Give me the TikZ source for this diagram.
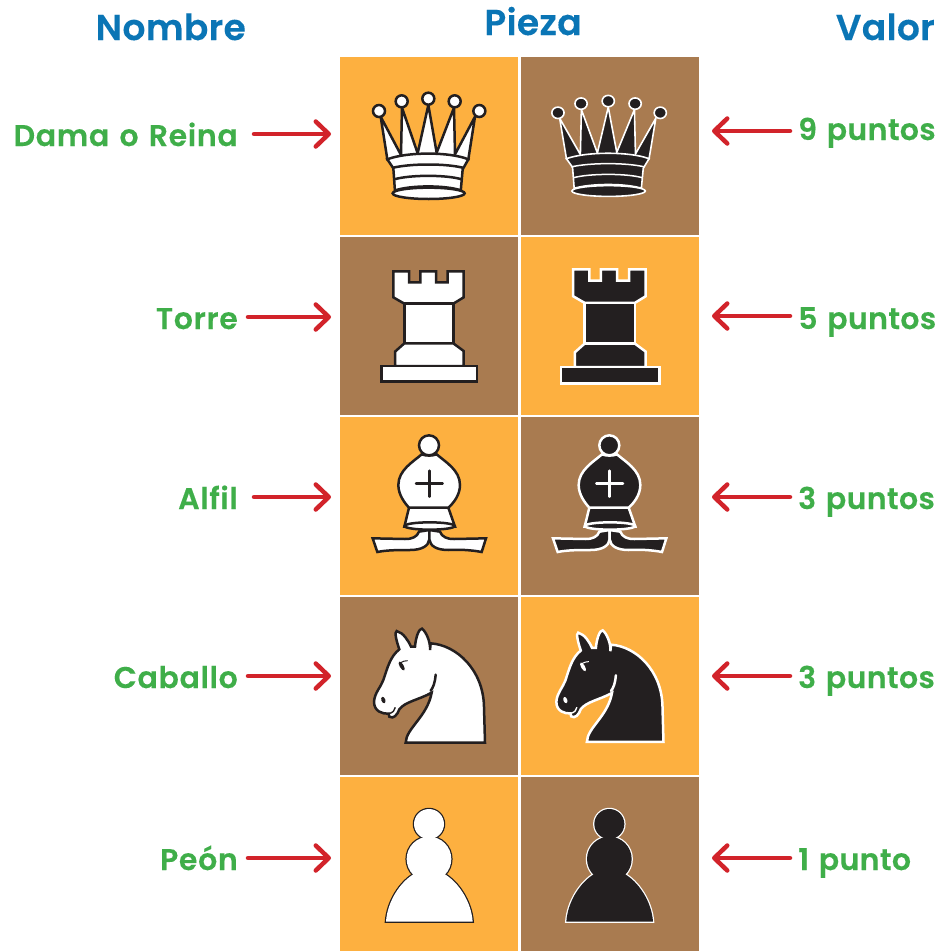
\documentclass[tikz,border=0pt]{standalone}
\usepackage{fontspec}
\setmainfont{Poppins}
\newfontfamily\labfont{Poppins SemiBold}[LetterSpace=2.3,WordSpace=1.3,FakeBold=0.25]
\newfontfamily\valfont{Poppins SemiBold}[LetterSpace=1.2,WordSpace=1.3,FakeBold=0.25]
\newfontfamily\headfont{Poppins SemiBold}[LetterSpace=1,FakeBold=0.2]
\usetikzlibrary{arrows.meta}
\definecolor{gold}{HTML}{FDB040}
\definecolor{brownc}{HTML}{A97B50}
\definecolor{inkc}{HTML}{231F20}
\definecolor{greenc}{HTML}{3FAE49}
\definecolor{bluec}{HTML}{0A75B5}
\definecolor{redc}{HTML}{D2232A}
\tikzset{
 cell/.style={rectangle,draw=none,inner sep=0pt,outer sep=0pt,minimum width=178pt,minimum height=178pt},
 head/.style={text=bluec,font=\fontsize{36}{40}\selectfont\headfont,inner sep=0pt},
 lab/.style={text=greenc,font=\fontsize{30}{34}\selectfont\labfont,inner sep=0pt},
 val/.style={text=greenc,font=\fontsize{30}{34}\selectfont\valfont,inner sep=0pt},
 arr/.style={draw=redc,line width=4.5pt,line cap=round,-{Straight Barb[length=13pt,width=25pt,round]}},
 body/.style={fill=pf,draw=ps,line width=2.5pt,line join=miter},
 bodyfill/.style={fill=pf,draw=none},
 line/.style={draw=ps,line width=2.5pt},
 thinblack/.style={body/.append style={line width=1.6pt},line/.append style={line width=1.5pt}},
 wp/.style={x=0.33333pt,y=-0.33333pt},
}
\newcommand{\setwhite}{\colorlet{pf}{white}\colorlet{ps}{inkc}}
\newcommand{\setblack}{\colorlet{pf}{inkc}\colorlet{ps}{white}}
\newcommand{\PQueen}{%
 \path[body] (142,298)--(122,170)--(183,285)--(186,143)--(233,280)--(265,135)--(290,278)--(342,143)--(345,283)--(405,170)--(385,298)--cycle;
 \path[body] (142,298) .. controls (200,275) and (330,275) .. (385,298) -- (368,328) -- (362,395) -- (165,395) -- (160,325) -- cycle;
 \path[line] (156,324) .. controls (210,310) and (320,310) .. (372,324);
 \path[line] (163,358) .. controls (210,344) and (320,344) .. (365,358);
 \path[line] (163,392) .. controls (210,375) and (320,375) .. (365,392);
 \path[body] (266,400) ellipse [x radius=108,y radius=17];
 \foreach \qx/\qy in {117/153,185/124,265/116,344/124,418/153}{\path[body] (\qx,\qy) circle [radius=18];}
}
\newcommand{\PRook}{%
 \path[body] (160,94)--(207,94)--(207,127)--(241,127)--(241,94)--(288,94)--(288,127)--(323,127)--(323,94)--(371,94)--(371,172)--(340,191)--(193,191)--(160,172)--cycle;
 \path[body] (193,191) rectangle (340,310);
 \path[body] (193,310)--(340,310)--(371,333)--(371,378)--(165,378)--(165,335)--cycle;
 \path[body] (125,378) rectangle (411,425);
}
\newcommand{\PBishop}{%
 \path[body] (237,335) .. controls (232,350) and (215,358) .. (195,357) -- (98,355) -- (112,396) .. controls (140,390) and (180,390) .. (210,390) .. controls (245,390) and (266,378) .. (268,358) -- (268,330) -- cycle;
 \path[body] (300,335) .. controls (305,350) and (322,358) .. (342,357) -- (438,355) -- (425,396) .. controls (395,390) and (355,388) .. (325,390) .. controls (290,390) and (270,378) .. (268,358) -- (268,330) -- cycle;
 \path[body] (207,263) -- (193,320) -- (345,320) -- (325,263) -- cycle;
 \path[body] (269,318) ellipse [x radius=75,y radius=11];
 \path[body] (245,103) .. controls (220,125) and (175,150) .. (175,195) .. controls (175,225) and (195,250) .. (207,263) -- (325,263) .. controls (340,250) and (360,225) .. (360,195) .. controls (360,150) and (315,125) .. (290,103) .. controls (275,108) and (260,108) .. (245,103) -- cycle;
 \path[body] (267,76) circle [radius=30];
 \path[line,line cap=round] (228,190) -- (308,190);
 \path[line,line cap=round] (268,152) -- (268,230);
}
\newcommand{\PKnight}{%
 \path[body] (435,428) -- (197,428) .. controls (198,385) and (262,350) .. (275,278) .. controls (235,300) and (195,305) .. (178,328) .. controls (172,345) and (160,358) .. (148,350) .. controls (147,347) and (146,344) .. (146,341) .. controls (128,342) and (102,335) .. (102,305) .. controls (104,278) and (122,262) .. (130,240) .. controls (142,205) and (150,170) .. (178,148) .. controls (170,125) and (162,95) .. (170,93) .. controls (190,98) and (205,122) .. (213,140) -- (225,140) .. controls (227,112) and (237,85) .. (246,86) .. controls (258,95) and (272,125) .. (270,150) -- (272,130) .. controls (350,135) and (430,210) .. (432,320) -- cycle;
 \path[line,line cap=round] (287,224) .. controls (285,248) and (280,262) .. (272,272);
 \path[fill=ps,rotate around={30:(185,198)}] (185,198) ellipse [x radius=6,y radius=15];
 \path[draw=ps,line width=1pt] (182,188) .. controls (188,184) and (195,182) .. (203,182);
 \path[fill=ps,rotate around={20:(130,300)}] (130,300) ellipse [x radius=6,y radius=10];
 \path[draw=ps,line width=1.4pt] (146,341) .. controls (158,338) and (165,332) .. (166,322);
}
\newcommand{\PPawn}{%
 \newcommand{\pwnshapes}[1]{%
  \path[##1] (267,132) circle [radius=45];
  \path[##1] (267,237) circle [radius=67];
  \path[##1] (138,425) .. controls (142,365) and (180,305) .. (225,280) -- (310,280) .. controls (355,305) and (394,365) .. (398,425) -- cycle;}%
 \pwnshapes{body}\pwnshapes{bodyfill}%
}
\begin{document}
\begin{tikzpicture}[x=1pt,y=-1pt]
\useasboundingbox (0,0) rectangle (938,951);
\fill[white] (0,0) rectangle (938,951);
% board
\node[cell,fill=gold] (c11) at (429,146) {};
\node[cell,fill=brownc] (c12) at (610,146) {};
\node[cell,fill=brownc] (c21) at (429,326) {};
\node[cell,fill=gold] (c22) at (610,326) {};
\node[cell,fill=gold] (c31) at (429,506) {};
\node[cell,fill=brownc] (c32) at (610,506) {};
\node[cell,fill=brownc] (c41) at (429,686) {};
\node[cell,fill=gold] (c42) at (610,686) {};
\node[cell,fill=gold,minimum height=174pt] (c51) at (429,864) {};
\node[cell,fill=brownc,minimum height=174pt] (c52) at (610,864) {};
% pieces
\begin{scope}[shift={(340,60)},wp]\setwhite\PQueen\end{scope}
\begin{scope}[shift={(340,60)}]\begin{scope}[thinblack,x=0.34pt,y=-0.3167pt,shift={(524,13.7)}]\setblack\PQueen\end{scope}\end{scope}
\begin{scope}[shift={(340,240)},wp]\setwhite\PRook\end{scope}
\begin{scope}[shift={(340,240)}]\begin{scope}[x=0.3443pt,y=-0.3443pt,shift={(517,-8.7)}]\setblack\PRook\end{scope}\end{scope}
\begin{scope}[shift={(340,420)},wp]\setwhite\PBishop\end{scope}
\begin{scope}[shift={(340,420)}]\begin{scope}[wp,shift={(541,0)}]\setblack\PBishop\end{scope}\end{scope}
\begin{scope}[shift={(340,600)},wp]\setwhite\PKnight\end{scope}
\begin{scope}[shift={(340,600)}]\begin{scope}[x=0.3217pt,y=-0.3257pt,shift={(570.5,7.2)}]\setblack\PKnight\end{scope}\end{scope}
\begin{scope}[shift={(340,780)},wp]\setwhite\PPawn\end{scope}
\begin{scope}[shift={(340,780)}]\begin{scope}[wp,shift={(541,0)}]\setblack\PPawn\end{scope}\end{scope}
% headings
\node[head,anchor=base east] (hn) at (246,40) {Nombre};
\node[head,anchor=base] (hp) at (533,35) {Pieza};
\node[head,anchor=base east] (hv) at (935,40) {Valor};
% left labels
\node[lab,anchor=base east] (l1) at (238,146) {Dama o Reina};
\node[lab,anchor=base east] (l2) at (238,329) {Torre};
\node[lab,anchor=base east] (l3) at (238,509) {Alfil};
\node[lab,anchor=base east] (l4) at (238,688) {Caballo};
\node[lab,anchor=base east] (l5) at (238,870) {Peón};
% right labels
\node[val,anchor=base west] (r1) at (798,140) {9 puntos};
\node[val,anchor=base west] (r2) at (798,329) {5 puntos};
\node[val,anchor=base west] (r3) at (798,509) {3 puntos};
\node[val,anchor=base west] (r4) at (798,688) {3 puntos};
\node[val,anchor=base west] (r5) at (798,870) {1 punto};
% arrow ends
\coordinate (a1) at (331,134);\coordinate (a2) at (331,317);\coordinate (a3) at (331,497);\coordinate (a4) at (331,676);\coordinate (a5) at (331,858);
\coordinate (b1) at (712,131);\coordinate (b2) at (712,316);\coordinate (b3) at (712,497);\coordinate (b4) at (712,676);\coordinate (b5) at (712,858);
\draw[arr,shorten <=16pt] (l1.east |- a1) -- (a1);
\draw[arr,shorten <=10pt] (l2.east |- a2) -- (a2);
\draw[arr,shorten <=16pt] (l3.east |- a3) -- (a3);
\draw[arr,shorten <=10pt] (l4.east |- a4) -- (a4);
\draw[arr,shorten <=10pt] (l5.east |- a5) -- (a5);
\draw[arr,shorten <=8pt] (r1.west |- b1) -- (b1);
\draw[arr,shorten <=8pt] (r2.west |- b2) -- (b2);
\draw[arr,shorten <=8pt] (r3.west |- b3) -- (b3);
\draw[arr,shorten <=8pt] (r4.west |- b4) -- (b4);
\draw[arr,shorten <=8pt] (r5.west |- b5) -- (b5);
\end{tikzpicture}
\end{document}
